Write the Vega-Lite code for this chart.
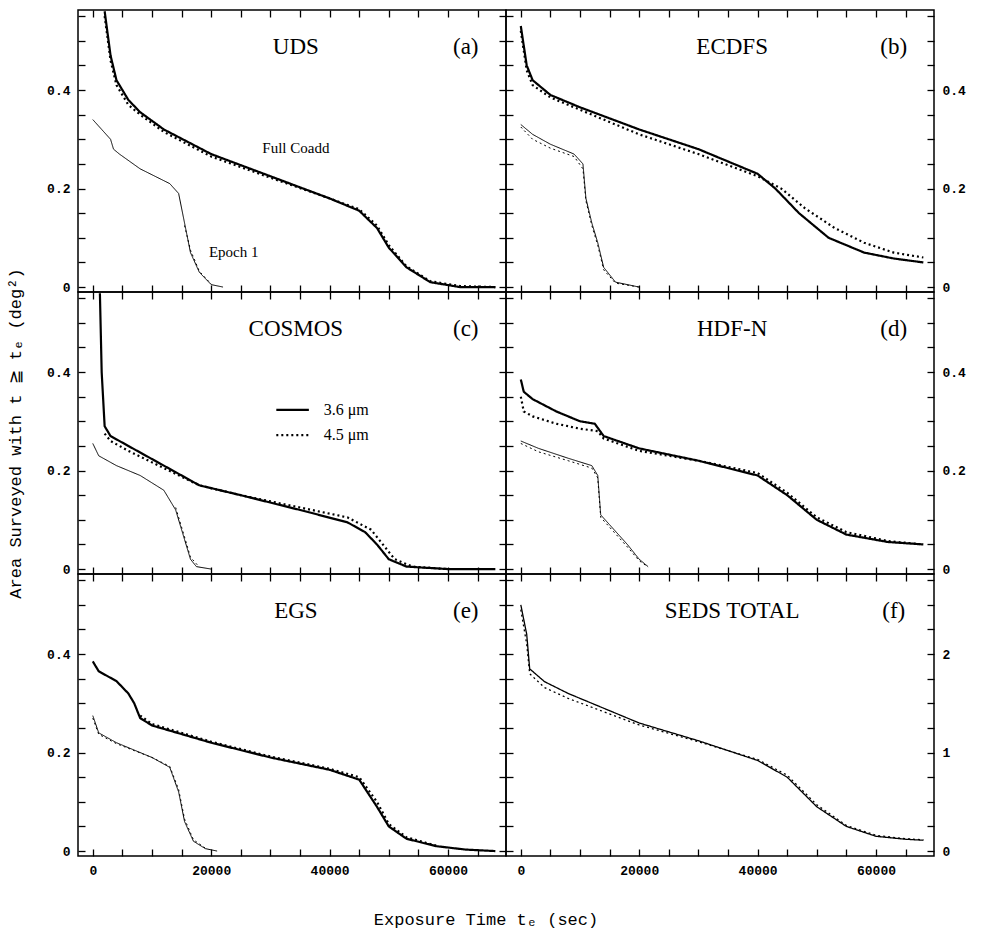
{
"$schema":"https://vega.github.io/schema/vega-lite/v6.json",
"background":"white",
"spacing":0,
"bounds":"flush",
"columns":2,
"padding":{"left":5,"top":8,"right":5,"bottom":5},
"config":{"view":{"stroke":"black","strokeWidth":1.5},"font":"Liberation Mono","concat":{"spacing":0},
"axis":{"grid":false,"domain":false,"tickColor":"black","tickWidth":1.3,"labelColor":"black","labelFont":"Liberation Mono","labelFontSize":13,"labelFontWeight":"bold","titleFont":"Liberation Mono","titleFontSize":17,"titleFontWeight":"normal","tickSize":7,"offset":-7,"labelPadding":8},
"title":{"font":"Liberation Mono","fontSize":17,"fontWeight":"normal"}},
"title":{"text":"Exposure Time tₑ (sec)","orient":"bottom","anchor":"middle","offset":34},
"resolve":{"scale":{"y":"independent","x":"independent"}},
"datasets":{
"curves":[
{"p":"a","s":"F36","t":2000,"a":0.56},{"p":"a","s":"F36","t":3000,"a":0.47},{"p":"a","s":"F36","t":4000,"a":0.42},{"p":"a","s":"F36","t":6000,"a":0.38},{"p":"a","s":"F36","t":8000,"a":0.355},{"p":"a","s":"F36","t":12000,"a":0.32},{"p":"a","s":"F36","t":20000,"a":0.27},{"p":"a","s":"F36","t":30000,"a":0.225},{"p":"a","s":"F36","t":40000,"a":0.18},{"p":"a","s":"F36","t":45000,"a":0.155},{"p":"a","s":"F36","t":48000,"a":0.12},{"p":"a","s":"F36","t":50000,"a":0.08},{"p":"a","s":"F36","t":53000,"a":0.04},{"p":"a","s":"F36","t":57000,"a":0.01},{"p":"a","s":"F36","t":62000,"a":0.0},{"p":"a","s":"F36","t":68000,"a":0},
{"p":"a","s":"F45","t":2000,"a":0.55},{"p":"a","s":"F45","t":3000,"a":0.46},{"p":"a","s":"F45","t":4000,"a":0.41},{"p":"a","s":"F45","t":6000,"a":0.37},{"p":"a","s":"F45","t":8000,"a":0.35},{"p":"a","s":"F45","t":12000,"a":0.315},{"p":"a","s":"F45","t":20000,"a":0.265},{"p":"a","s":"F45","t":30000,"a":0.222},{"p":"a","s":"F45","t":40000,"a":0.18},{"p":"a","s":"F45","t":45000,"a":0.158},{"p":"a","s":"F45","t":48000,"a":0.125},{"p":"a","s":"F45","t":50000,"a":0.085},{"p":"a","s":"F45","t":53000,"a":0.042},{"p":"a","s":"F45","t":57000,"a":0.012},{"p":"a","s":"F45","t":62000,"a":0.002},{"p":"a","s":"F45","t":68000,"a":0},
{"p":"a","s":"E36","t":0,"a":0.34},{"p":"a","s":"E36","t":1500,"a":0.32},{"p":"a","s":"E36","t":3000,"a":0.30},{"p":"a","s":"E36","t":3500,"a":0.28},{"p":"a","s":"E36","t":4500,"a":0.27},{"p":"a","s":"E36","t":8000,"a":0.24},{"p":"a","s":"E36","t":13000,"a":0.21},{"p":"a","s":"E36","t":14500,"a":0.19},{"p":"a","s":"E36","t":15500,"a":0.13},{"p":"a","s":"E36","t":16500,"a":0.07},{"p":"a","s":"E36","t":18000,"a":0.03},{"p":"a","s":"E36","t":20000,"a":0.005},{"p":"a","s":"E36","t":22000,"a":0},
{"p":"a","s":"E45","t":15500,"a":0.125},{"p":"a","s":"E45","t":16500,"a":0.075},{"p":"a","s":"E45","t":18000,"a":0.032},{"p":"a","s":"E45","t":20000,"a":0.006},
{"p":"b","s":"F36","t":0,"a":0.53},{"p":"b","s":"F36","t":1000,"a":0.45},{"p":"b","s":"F36","t":2000,"a":0.42},{"p":"b","s":"F36","t":5000,"a":0.39},{"p":"b","s":"F36","t":10000,"a":0.365},{"p":"b","s":"F36","t":20000,"a":0.32},{"p":"b","s":"F36","t":30000,"a":0.28},{"p":"b","s":"F36","t":40000,"a":0.23},{"p":"b","s":"F36","t":43000,"a":0.2},{"p":"b","s":"F36","t":47000,"a":0.15},{"p":"b","s":"F36","t":52000,"a":0.1},{"p":"b","s":"F36","t":58000,"a":0.07},{"p":"b","s":"F36","t":63000,"a":0.058},{"p":"b","s":"F36","t":68000,"a":0.05},
{"p":"b","s":"F45","t":0,"a":0.52},{"p":"b","s":"F45","t":1000,"a":0.44},{"p":"b","s":"F45","t":2000,"a":0.41},{"p":"b","s":"F45","t":5000,"a":0.385},{"p":"b","s":"F45","t":10000,"a":0.36},{"p":"b","s":"F45","t":20000,"a":0.31},{"p":"b","s":"F45","t":30000,"a":0.27},{"p":"b","s":"F45","t":40000,"a":0.225},{"p":"b","s":"F45","t":44000,"a":0.2},{"p":"b","s":"F45","t":48000,"a":0.16},{"p":"b","s":"F45","t":53000,"a":0.12},{"p":"b","s":"F45","t":58000,"a":0.09},{"p":"b","s":"F45","t":63000,"a":0.07},{"p":"b","s":"F45","t":68000,"a":0.06},
{"p":"b","s":"E36","t":0,"a":0.33},{"p":"b","s":"E36","t":2000,"a":0.31},{"p":"b","s":"E36","t":5000,"a":0.29},{"p":"b","s":"E36","t":9000,"a":0.27},{"p":"b","s":"E36","t":10500,"a":0.25},{"p":"b","s":"E36","t":11000,"a":0.18},{"p":"b","s":"E36","t":12000,"a":0.13},{"p":"b","s":"E36","t":13000,"a":0.09},{"p":"b","s":"E36","t":14000,"a":0.04},{"p":"b","s":"E36","t":16000,"a":0.01},{"p":"b","s":"E36","t":20000,"a":0},
{"p":"b","s":"E45","t":0,"a":0.325},{"p":"b","s":"E45","t":2000,"a":0.3},{"p":"b","s":"E45","t":5000,"a":0.282},{"p":"b","s":"E45","t":9000,"a":0.265},{"p":"b","s":"E45","t":10500,"a":0.24},{"p":"b","s":"E45","t":11000,"a":0.175},{"p":"b","s":"E45","t":12000,"a":0.125},{"p":"b","s":"E45","t":13000,"a":0.085},{"p":"b","s":"E45","t":14000,"a":0.035},{"p":"b","s":"E45","t":16000,"a":0.008},{"p":"b","s":"E45","t":20000,"a":0},
{"p":"c","s":"F36","t":1200,"a":0.56},{"p":"c","s":"F36","t":1500,"a":0.40},{"p":"c","s":"F36","t":2000,"a":0.29},{"p":"c","s":"F36","t":3000,"a":0.27},{"p":"c","s":"F36","t":6000,"a":0.25},{"p":"c","s":"F36","t":12000,"a":0.21},{"p":"c","s":"F36","t":18000,"a":0.17},{"p":"c","s":"F36","t":25000,"a":0.15},{"p":"c","s":"F36","t":35000,"a":0.12},{"p":"c","s":"F36","t":43000,"a":0.095},{"p":"c","s":"F36","t":46000,"a":0.075},{"p":"c","s":"F36","t":48000,"a":0.05},{"p":"c","s":"F36","t":50000,"a":0.02},{"p":"c","s":"F36","t":53000,"a":0.005},{"p":"c","s":"F36","t":60000,"a":0},{"p":"c","s":"F36","t":68000,"a":0},
{"p":"c","s":"F45","t":2000,"a":0.275},{"p":"c","s":"F45","t":3000,"a":0.26},{"p":"c","s":"F45","t":6000,"a":0.24},{"p":"c","s":"F45","t":12000,"a":0.205},{"p":"c","s":"F45","t":18000,"a":0.17},{"p":"c","s":"F45","t":25000,"a":0.15},{"p":"c","s":"F45","t":35000,"a":0.125},{"p":"c","s":"F45","t":43000,"a":0.105},{"p":"c","s":"F45","t":47000,"a":0.08},{"p":"c","s":"F45","t":49000,"a":0.05},{"p":"c","s":"F45","t":51000,"a":0.02},{"p":"c","s":"F45","t":54000,"a":0.005},{"p":"c","s":"F45","t":60000,"a":0},
{"p":"c","s":"E36","t":0,"a":0.255},{"p":"c","s":"E36","t":1000,"a":0.23},{"p":"c","s":"E36","t":4000,"a":0.21},{"p":"c","s":"E36","t":8000,"a":0.19},{"p":"c","s":"E36","t":12000,"a":0.16},{"p":"c","s":"E36","t":14000,"a":0.12},{"p":"c","s":"E36","t":15500,"a":0.06},{"p":"c","s":"E36","t":16500,"a":0.02},{"p":"c","s":"E36","t":17500,"a":0.005},{"p":"c","s":"E36","t":20000,"a":0},
{"p":"c","s":"E45","t":14000,"a":0.125},{"p":"c","s":"E45","t":15500,"a":0.065},{"p":"c","s":"E45","t":16500,"a":0.024},{"p":"c","s":"E45","t":18000,"a":0.004},
{"p":"c","s":"L36","t":31000,"a":0.323},{"p":"c","s":"L36","t":36500,"a":0.323},
{"p":"c","s":"L45","t":31000,"a":0.272},{"p":"c","s":"L45","t":36500,"a":0.272},
{"p":"d","s":"F36","t":0,"a":0.385},{"p":"d","s":"F36","t":500,"a":0.36},{"p":"d","s":"F36","t":2000,"a":0.345},{"p":"d","s":"F36","t":6000,"a":0.32},{"p":"d","s":"F36","t":10000,"a":0.30},{"p":"d","s":"F36","t":12500,"a":0.295},{"p":"d","s":"F36","t":14000,"a":0.27},{"p":"d","s":"F36","t":20000,"a":0.245},{"p":"d","s":"F36","t":30000,"a":0.22},{"p":"d","s":"F36","t":40000,"a":0.19},{"p":"d","s":"F36","t":45000,"a":0.15},{"p":"d","s":"F36","t":50000,"a":0.10},{"p":"d","s":"F36","t":55000,"a":0.07},{"p":"d","s":"F36","t":62000,"a":0.055},{"p":"d","s":"F36","t":68000,"a":0.05},
{"p":"d","s":"F45","t":0,"a":0.35},{"p":"d","s":"F45","t":500,"a":0.32},{"p":"d","s":"F45","t":2000,"a":0.31},{"p":"d","s":"F45","t":6000,"a":0.295},{"p":"d","s":"F45","t":10000,"a":0.285},{"p":"d","s":"F45","t":13000,"a":0.28},{"p":"d","s":"F45","t":14000,"a":0.265},{"p":"d","s":"F45","t":20000,"a":0.24},{"p":"d","s":"F45","t":30000,"a":0.22},{"p":"d","s":"F45","t":40000,"a":0.195},{"p":"d","s":"F45","t":45000,"a":0.155},{"p":"d","s":"F45","t":50000,"a":0.105},{"p":"d","s":"F45","t":55000,"a":0.075},{"p":"d","s":"F45","t":62000,"a":0.057},{"p":"d","s":"F45","t":68000,"a":0.05},
{"p":"d","s":"E36","t":0,"a":0.26},{"p":"d","s":"E36","t":3000,"a":0.245},{"p":"d","s":"E36","t":8000,"a":0.225},{"p":"d","s":"E36","t":12000,"a":0.21},{"p":"d","s":"E36","t":13000,"a":0.19},{"p":"d","s":"E36","t":13500,"a":0.11},{"p":"d","s":"E36","t":15000,"a":0.09},{"p":"d","s":"E36","t":18000,"a":0.05},{"p":"d","s":"E36","t":20000,"a":0.02},{"p":"d","s":"E36","t":21500,"a":0.005},
{"p":"d","s":"E45","t":0,"a":0.255},{"p":"d","s":"E45","t":3000,"a":0.238},{"p":"d","s":"E45","t":8000,"a":0.22},{"p":"d","s":"E45","t":12000,"a":0.205},{"p":"d","s":"E45","t":13000,"a":0.185},{"p":"d","s":"E45","t":13500,"a":0.105},{"p":"d","s":"E45","t":15000,"a":0.085},{"p":"d","s":"E45","t":18000,"a":0.045},{"p":"d","s":"E45","t":20000,"a":0.017},{"p":"d","s":"E45","t":21500,"a":0.004},
{"p":"e","s":"F36","t":0,"a":0.385},{"p":"e","s":"F36","t":1000,"a":0.365},{"p":"e","s":"F36","t":4000,"a":0.345},{"p":"e","s":"F36","t":6000,"a":0.32},{"p":"e","s":"F36","t":7000,"a":0.30},{"p":"e","s":"F36","t":8000,"a":0.27},{"p":"e","s":"F36","t":10000,"a":0.255},{"p":"e","s":"F36","t":20000,"a":0.22},{"p":"e","s":"F36","t":30000,"a":0.19},{"p":"e","s":"F36","t":40000,"a":0.165},{"p":"e","s":"F36","t":45000,"a":0.145},{"p":"e","s":"F36","t":48000,"a":0.09},{"p":"e","s":"F36","t":50000,"a":0.05},{"p":"e","s":"F36","t":53000,"a":0.025},{"p":"e","s":"F36","t":58000,"a":0.01},{"p":"e","s":"F36","t":63000,"a":0.003},{"p":"e","s":"F36","t":68000,"a":0},
{"p":"e","s":"F45","t":8000,"a":0.275},{"p":"e","s":"F45","t":10000,"a":0.258},{"p":"e","s":"F45","t":20000,"a":0.222},{"p":"e","s":"F45","t":30000,"a":0.192},{"p":"e","s":"F45","t":40000,"a":0.167},{"p":"e","s":"F45","t":45000,"a":0.15},{"p":"e","s":"F45","t":48000,"a":0.1},{"p":"e","s":"F45","t":50000,"a":0.055},{"p":"e","s":"F45","t":53000,"a":0.028},{"p":"e","s":"F45","t":58000,"a":0.011},
{"p":"e","s":"E36","t":0,"a":0.275},{"p":"e","s":"E36","t":1000,"a":0.24},{"p":"e","s":"E36","t":4000,"a":0.22},{"p":"e","s":"E36","t":10000,"a":0.19},{"p":"e","s":"E36","t":13000,"a":0.17},{"p":"e","s":"E36","t":14500,"a":0.12},{"p":"e","s":"E36","t":15500,"a":0.06},{"p":"e","s":"E36","t":17000,"a":0.02},{"p":"e","s":"E36","t":19000,"a":0.005},{"p":"e","s":"E36","t":21000,"a":0},
{"p":"e","s":"E45","t":0,"a":0.27},{"p":"e","s":"E45","t":1000,"a":0.237},{"p":"e","s":"E45","t":4000,"a":0.218},{"p":"e","s":"E45","t":10000,"a":0.19},{"p":"e","s":"E45","t":13000,"a":0.172},{"p":"e","s":"E45","t":14500,"a":0.125},{"p":"e","s":"E45","t":15500,"a":0.065},{"p":"e","s":"E45","t":17000,"a":0.023},{"p":"e","s":"E45","t":19000,"a":0.006},
{"p":"f","s":"F36","t":0,"a":2.5},{"p":"f","s":"F36","t":1000,"a":2.2},{"p":"f","s":"F36","t":1500,"a":1.85},{"p":"f","s":"F36","t":4000,"a":1.72},{"p":"f","s":"F36","t":8000,"a":1.6},{"p":"f","s":"F36","t":20000,"a":1.3},{"p":"f","s":"F36","t":30000,"a":1.12},{"p":"f","s":"F36","t":40000,"a":0.92},{"p":"f","s":"F36","t":45000,"a":0.75},{"p":"f","s":"F36","t":50000,"a":0.45},{"p":"f","s":"F36","t":55000,"a":0.25},{"p":"f","s":"F36","t":60000,"a":0.15},{"p":"f","s":"F36","t":65000,"a":0.12},{"p":"f","s":"F36","t":68000,"a":0.11},
{"p":"f","s":"F45","t":0,"a":2.45},{"p":"f","s":"F45","t":1000,"a":2.1},{"p":"f","s":"F45","t":1500,"a":1.8},{"p":"f","s":"F45","t":4000,"a":1.66},{"p":"f","s":"F45","t":8000,"a":1.55},{"p":"f","s":"F45","t":20000,"a":1.28},{"p":"f","s":"F45","t":30000,"a":1.11},{"p":"f","s":"F45","t":40000,"a":0.93},{"p":"f","s":"F45","t":45000,"a":0.77},{"p":"f","s":"F45","t":50000,"a":0.47},{"p":"f","s":"F45","t":55000,"a":0.26},{"p":"f","s":"F45","t":60000,"a":0.16},{"p":"f","s":"F45","t":65000,"a":0.125},{"p":"f","s":"F45","t":68000,"a":0.115}
],
"labels":[
{"p":"a","t":34300,"a":0.487,"txt":"UDS","k":"big"},{"p":"a","t":63000,"a":0.487,"txt":"(a)","k":"big"},
{"p":"a","t":34300,"a":0.282,"txt":"Full Coadd","k":"small"},{"p":"a","t":23800,"a":0.071,"txt":"Epoch 1","k":"small"},
{"p":"b","t":35700,"a":0.487,"txt":"ECDFS","k":"big"},{"p":"b","t":63000,"a":0.487,"txt":"(b)","k":"big"},
{"p":"c","t":34300,"a":0.487,"txt":"COSMOS","k":"big"},{"p":"c","t":63000,"a":0.487,"txt":"(c)","k":"big"},
{"p":"c","t":42800,"a":0.323,"txt":"3.6 μm","k":"leg"},{"p":"c","t":42800,"a":0.272,"txt":"4.5 μm","k":"leg"},
{"p":"d","t":35700,"a":0.487,"txt":"HDF-N","k":"big"},{"p":"d","t":63000,"a":0.487,"txt":"(d)","k":"big"},
{"p":"e","t":34300,"a":0.487,"txt":"EGS","k":"big"},{"p":"e","t":63000,"a":0.487,"txt":"(e)","k":"big"},
{"p":"f","t":35700,"a":2.435,"txt":"SEDS TOTAL","k":"big"},{"p":"f","t":63000,"a":2.435,"txt":"(f)","k":"big"}
]},
"concat":[
{"width":428,"height":282,"resolve":{"axis":{"x":"independent","y":"independent"}},"layer":[
{"data":{"name":"curves"},"transform":[{"filter":"datum.p=='a'"}],"mark":{"type":"line","color":"black","clip":true},
"encoding":{"x":{"field":"t","type":"quantitative","scale":{"domain":[-2500,69800],"nice":false,"zero":false},"axis":{"values":[0,5000,10000,15000,20000,25000,30000,35000,40000,45000,50000,55000,60000,65000],"labels":false,"title":null}},
"y":{"field":"a","type":"quantitative","scale":{"domain":[-0.01,0.5625],"nice":false,"zero":false},"axis":{"values":[0,0.05,0.1,0.15,0.2,0.25,0.3,0.35,0.4,0.45,0.5,0.55],"labelExpr":"abs(datum.value*5-round(datum.value*5))<0.001 ? format(datum.value,'.1~f') : ''","title":null}},
"detail":{"field":"s"},
"strokeDash":{"field":"s","scale":{"domain":["F36","F45","E36","E45","L36","L45"],"range":[[1,0],[2,3],[1,0],[2,3],[1,0],[2,3]]},"legend":null},
"strokeWidth":{"condition":{"test":"datum.s=='E36' || datum.s=='E45'","value":1},"value":2.2}}},
{"data":{"name":"labels"},"transform":[{"filter":"datum.p=='a'"}],"mark":{"type":"text","color":"black","font":"Liberation Serif"},
"encoding":{"x":{"field":"t","type":"quantitative","axis":{"orient":"top","values":[0,5000,10000,15000,20000,25000,30000,35000,40000,45000,50000,55000,60000,65000],"labels":false,"title":null}},"y":{"field":"a","type":"quantitative","axis":{"orient":"right","values":[0,0.05,0.1,0.15,0.2,0.25,0.3,0.35,0.4,0.45,0.5,0.55],"labels":false,"title":null}},"text":{"field":"txt"},
"size":{"condition":{"test":"datum.k=='big'","value":23},"value":15}}}]},
{"width":428,"height":282,"resolve":{"axis":{"x":"independent","y":"independent"}},"layer":[
{"data":{"name":"curves"},"transform":[{"filter":"datum.p=='b'"}],"mark":{"type":"line","color":"black","clip":true},
"encoding":{"x":{"field":"t","type":"quantitative","scale":{"domain":[-2500,69800],"nice":false,"zero":false},"axis":{"values":[0,5000,10000,15000,20000,25000,30000,35000,40000,45000,50000,55000,60000,65000],"labels":false,"title":null}},
"y":{"field":"a","type":"quantitative","scale":{"domain":[-0.01,0.5625],"nice":false,"zero":false},"axis":{"orient":"right","values":[0,0.05,0.1,0.15,0.2,0.25,0.3,0.35,0.4,0.45,0.5,0.55],"labelExpr":"abs(datum.value*5-round(datum.value*5))<0.001 ? format(datum.value,'.1~f') : ''","title":null}},
"detail":{"field":"s"},
"strokeDash":{"field":"s","scale":{"domain":["F36","F45","E36","E45","L36","L45"],"range":[[1,0],[2,3],[1,0],[2,3],[1,0],[2,3]]},"legend":null},
"strokeWidth":{"condition":{"test":"datum.s=='E36' || datum.s=='E45'","value":1},"value":2.2}}},
{"data":{"name":"labels"},"transform":[{"filter":"datum.p=='b'"}],"mark":{"type":"text","color":"black","font":"Liberation Serif","fontSize":23},
"encoding":{"x":{"field":"t","type":"quantitative","axis":{"orient":"top","values":[0,5000,10000,15000,20000,25000,30000,35000,40000,45000,50000,55000,60000,65000],"labels":false,"title":null}},"y":{"field":"a","type":"quantitative","axis":{"orient":"left","values":[0,0.05,0.1,0.15,0.2,0.25,0.3,0.35,0.4,0.45,0.5,0.55],"labels":false,"title":null}},"text":{"field":"txt"}}}]},
{"width":428,"height":282,"resolve":{"axis":{"x":"independent","y":"independent"}},"layer":[
{"data":{"name":"curves"},"transform":[{"filter":"datum.p=='c'"}],"mark":{"type":"line","color":"black","clip":true},
"encoding":{"x":{"field":"t","type":"quantitative","scale":{"domain":[-2500,69800],"nice":false,"zero":false},"axis":{"values":[0,5000,10000,15000,20000,25000,30000,35000,40000,45000,50000,55000,60000,65000],"labels":false,"title":null}},
"y":{"field":"a","type":"quantitative","scale":{"domain":[-0.01,0.5625],"nice":false,"zero":false},"axis":{"values":[0,0.05,0.1,0.15,0.2,0.25,0.3,0.35,0.4,0.45,0.5,0.55],"labelExpr":"abs(datum.value*5-round(datum.value*5))<0.001 ? format(datum.value,'.1~f') : ''","title":"Area Surveyed with t ≧ tₑ (deg²)","titlePadding":22}},
"detail":{"field":"s"},
"strokeDash":{"field":"s","scale":{"domain":["F36","F45","E36","E45","L36","L45"],"range":[[1,0],[2,3],[1,0],[2,3],[1,0],[2,3]]},"legend":null},
"strokeWidth":{"condition":{"test":"datum.s=='E36' || datum.s=='E45'","value":1},"value":2.2}}},
{"data":{"name":"labels"},"transform":[{"filter":"datum.p=='c'"}],"mark":{"type":"text","color":"black","font":"Liberation Serif"},
"encoding":{"x":{"field":"t","type":"quantitative","axis":{"orient":"top","values":[0,5000,10000,15000,20000,25000,30000,35000,40000,45000,50000,55000,60000,65000],"labels":false,"title":null}},"y":{"field":"a","type":"quantitative","axis":{"orient":"right","values":[0,0.05,0.1,0.15,0.2,0.25,0.3,0.35,0.4,0.45,0.5,0.55],"labels":false,"title":null}},"text":{"field":"txt"},
"size":{"condition":{"test":"datum.k=='big'","value":23},"value":16}}}]},
{"width":428,"height":282,"resolve":{"axis":{"x":"independent","y":"independent"}},"layer":[
{"data":{"name":"curves"},"transform":[{"filter":"datum.p=='d'"}],"mark":{"type":"line","color":"black","clip":true},
"encoding":{"x":{"field":"t","type":"quantitative","scale":{"domain":[-2500,69800],"nice":false,"zero":false},"axis":{"values":[0,5000,10000,15000,20000,25000,30000,35000,40000,45000,50000,55000,60000,65000],"labels":false,"title":null}},
"y":{"field":"a","type":"quantitative","scale":{"domain":[-0.01,0.5625],"nice":false,"zero":false},"axis":{"orient":"right","values":[0,0.05,0.1,0.15,0.2,0.25,0.3,0.35,0.4,0.45,0.5,0.55],"labelExpr":"abs(datum.value*5-round(datum.value*5))<0.001 ? format(datum.value,'.1~f') : ''","title":null}},
"detail":{"field":"s"},
"strokeDash":{"field":"s","scale":{"domain":["F36","F45","E36","E45","L36","L45"],"range":[[1,0],[2,3],[1,0],[2,3],[1,0],[2,3]]},"legend":null},
"strokeWidth":{"condition":{"test":"datum.s=='E36' || datum.s=='E45'","value":1},"value":2.2}}},
{"data":{"name":"labels"},"transform":[{"filter":"datum.p=='d'"}],"mark":{"type":"text","color":"black","font":"Liberation Serif","fontSize":23},
"encoding":{"x":{"field":"t","type":"quantitative","axis":{"orient":"top","values":[0,5000,10000,15000,20000,25000,30000,35000,40000,45000,50000,55000,60000,65000],"labels":false,"title":null}},"y":{"field":"a","type":"quantitative","axis":{"orient":"left","values":[0,0.05,0.1,0.15,0.2,0.25,0.3,0.35,0.4,0.45,0.5,0.55],"labels":false,"title":null}},"text":{"field":"txt"}}}]},
{"width":428,"height":282,"resolve":{"axis":{"x":"independent","y":"independent"}},"layer":[
{"data":{"name":"curves"},"transform":[{"filter":"datum.p=='e'"}],"mark":{"type":"line","color":"black","clip":true},
"encoding":{"x":{"field":"t","type":"quantitative","scale":{"domain":[-2500,69800],"nice":false,"zero":false},"axis":{"values":[0,5000,10000,15000,20000,25000,30000,35000,40000,45000,50000,55000,60000,65000],"labelExpr":"datum.value % 20000 == 0 ? format(datum.value,'d') : ''","title":null}},
"y":{"field":"a","type":"quantitative","scale":{"domain":[-0.01,0.5625],"nice":false,"zero":false},"axis":{"values":[0,0.05,0.1,0.15,0.2,0.25,0.3,0.35,0.4,0.45,0.5,0.55],"labelExpr":"abs(datum.value*5-round(datum.value*5))<0.001 ? format(datum.value,'.1~f') : ''","title":null}},
"detail":{"field":"s"},
"strokeDash":{"field":"s","scale":{"domain":["F36","F45","E36","E45","L36","L45"],"range":[[1,0],[2,3],[1,0],[2,3],[1,0],[2,3]]},"legend":null},
"strokeWidth":{"condition":{"test":"datum.s=='E36' || datum.s=='E45'","value":1},"value":2.2}}},
{"data":{"name":"labels"},"transform":[{"filter":"datum.p=='e'"}],"mark":{"type":"text","color":"black","font":"Liberation Serif","fontSize":23},
"encoding":{"x":{"field":"t","type":"quantitative","axis":{"orient":"top","values":[0,5000,10000,15000,20000,25000,30000,35000,40000,45000,50000,55000,60000,65000],"labels":false,"title":null}},"y":{"field":"a","type":"quantitative","axis":{"orient":"right","values":[0,0.05,0.1,0.15,0.2,0.25,0.3,0.35,0.4,0.45,0.5,0.55],"labels":false,"title":null}},"text":{"field":"txt"}}}]},
{"width":428,"height":282,"resolve":{"axis":{"x":"independent","y":"independent"}},"layer":[
{"data":{"name":"curves"},"transform":[{"filter":"datum.p=='f'"}],"mark":{"type":"line","color":"black","clip":true,"strokeWidth":1.3},
"encoding":{"x":{"field":"t","type":"quantitative","scale":{"domain":[-2500,69800],"nice":false,"zero":false},"axis":{"values":[0,5000,10000,15000,20000,25000,30000,35000,40000,45000,50000,55000,60000,65000],"labelExpr":"datum.value % 20000 == 0 ? format(datum.value,'d') : ''","title":null}},
"y":{"field":"a","type":"quantitative","scale":{"domain":[-0.05,2.8125],"nice":false,"zero":false},"axis":{"orient":"right","values":[0,0.25,0.5,0.75,1,1.25,1.5,1.75,2,2.25,2.5,2.75],"labelExpr":"datum.value % 1 == 0 ? format(datum.value,'d') : ''","title":null}},
"detail":{"field":"s"},
"strokeDash":{"field":"s","scale":{"domain":["F36","F45","E36","E45","L36","L45"],"range":[[1,0],[2,3],[1,0],[2,3],[1,0],[2,3]]},"legend":null}}},
{"data":{"name":"labels"},"transform":[{"filter":"datum.p=='f'"}],"mark":{"type":"text","color":"black","font":"Liberation Serif","fontSize":23},
"encoding":{"x":{"field":"t","type":"quantitative","axis":{"orient":"top","values":[0,5000,10000,15000,20000,25000,30000,35000,40000,45000,50000,55000,60000,65000],"labels":false,"title":null}},"y":{"field":"a","type":"quantitative","axis":{"orient":"left","values":[0,0.25,0.5,0.75,1,1.25,1.5,1.75,2,2.25,2.5,2.75],"labels":false,"title":null}},"text":{"field":"txt"}}}]}
]}
